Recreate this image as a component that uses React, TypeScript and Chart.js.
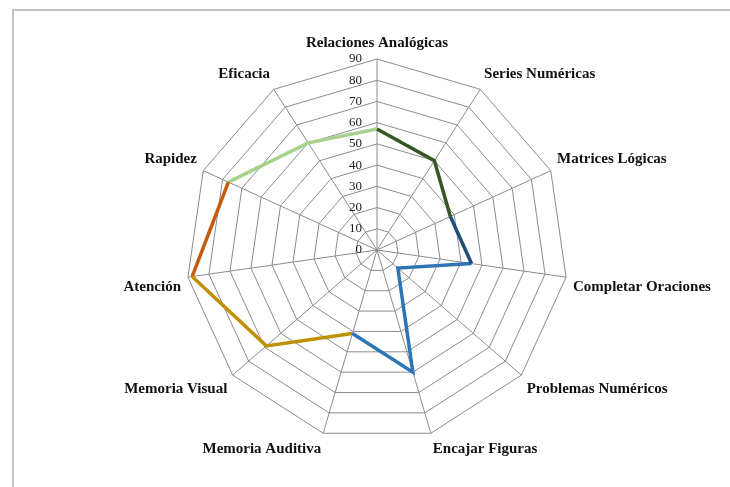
import React, { useEffect, useRef } from "react";
import { Chart, registerables } from "chart.js";

Chart.register(...registerables);

const categories = [
  "Relaciones Analógicas",
  "Series Numéricas",
  "Matrices Lógicas",
  "Completar Oraciones",
  "Problemas Numéricos",
  "Encajar Figuras",
  "Memoria Auditiva",
  "Memoria Visual",
  "Atención",
  "Rapidez",
  "Eficacia",
];

const scores = [57, 50, 38, 45, 13, 60, 41, 69, 88, 77, 60];

// coloured pieces of the outline: which category indices each piece joins
const pieceIndices = [
  [0, 1, 2],
  [2, 3],
  [3, 4, 5, 6],
  [6, 7, 8],
  [8, 9],
  [9, 10, 0],
];
const pieceColors = ["#375623", "#1F4E79", "#2E75B6", "#BF9000", "#C55A11", "#A9D18E"];

const tickValues = [0, 10, 20, 30, 40, 50, 60, 70, 80, 90];

const tickLabelPlugin = {
  id: "tickLabelsLeft",
  afterDraw(chart: any) {
    const scale = chart.scales.r;
    const ctx = chart.ctx;
    ctx.save();
    ctx.font = "13px 'Liberation Serif'";
    ctx.fillStyle = "#1a1a1a";
    ctx.textAlign = "right";
    ctx.textBaseline = "middle";
    tickValues.forEach((v) => {
      const d = scale.getDistanceFromCenterForValue(v);
      ctx.fillText(String(v), scale.xCenter - 15, scale.yCenter - d);
    });
    ctx.restore();
  },
};

export default function App() {
  const ref = useRef<HTMLCanvasElement>(null);

  useEffect(() => {
    const datasets = pieceIndices.map((idx, k) => ({
      data: scores.map((v, i) => (idx.includes(i) ? v : null)),
      fill: false,
      spanGaps: false,
      borderWidth: 3.5,
      borderJoin: "miter" as const,
      pointRadius: 0,
      pointHoverRadius: 0,
      borderColor: pieceColors[k],
    }));
    const chart = new Chart(ref.current!, {
      type: "radar",
      data: { labels: categories, datasets: datasets as any },
      options: {
        animation: false,
        responsive: false,
        layout: { padding: { left: 36, right: 0, top: 30, bottom: 24 } },
        plugins: {
          legend: { display: false },
          tooltip: { enabled: false },
        },
        scales: {
          r: {
            min: 0,
            max: 90,
            ticks: { stepSize: 10, display: false },
            grid: { color: "#8c8c8c", lineWidth: 1 },
            angleLines: { color: "#8c8c8c", lineWidth: 1 },
            pointLabels: {
              font: { family: "'Liberation Serif'", size: 15, weight: "bold" },
              color: "#111111",
              padding: 7,
            },
          },
        },
      },
      plugins: [tickLabelPlugin],
    });
    return () => chart.destroy();
  }, []);

  return (
    <div style={{ position: "fixed", left: 0, top: 0, width: 730, height: 487, background: "#ffffff" }}>
      <div
        style={{
          position: "absolute",
          left: 12,
          top: 9,
          width: 730,
          height: 487,
          borderTop: "2px solid #c4c4c4",
          borderLeft: "2px solid #c4c4c4",
        }}
      />
      <canvas
        ref={ref}
        width={730}
        height={487}
        style={{ position: "absolute", left: 0, top: 0, width: 730, height: 487 }}
      />
    </div>
  );
}
